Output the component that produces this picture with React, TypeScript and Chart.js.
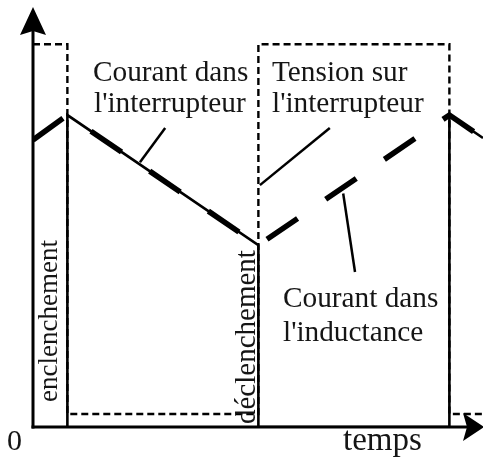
import React, { useEffect, useRef } from "react";
import { Chart, registerables } from "chart.js";

Chart.register(...registerables);

// Time instants (arbitrary units): switch turn-on, turn-off, next turn-on, right edge
const tOn1 = 0.9;
const tOff = 5.9;
const tOn2 = 10.9;
const tEnd = 11.78;

// Switch current (solid)
const switchCurrentX = [tOn1, tOn1, tOff, tOff, tOn2, tOn2, tEnd];
const switchCurrentY = [0, 8.15, 4.75, 0, 0, 8.15, 7.55];

// Inductor current (thick dashes)
const inductorCurrentX = [0, tOn1, tOff, tOn2, tEnd];
const inductorCurrentY = [7.5, 8.15, 4.75, 8.15, 7.55];

// Switch voltage (dotted)
const switchVoltageX = [0, tOn1, tOn1, tOff, tOff, tOn2, tOn2, tEnd];
const switchVoltageY = [10, 10, 0.34, 0.34, 10, 10, 0.34, 0.34];

// Leader lines from labels to curves
const leaderSwitchCurrentX = [2.8, 3.46];
const leaderSwitchCurrentY = [6.92, 7.81];
const leaderVoltageX = [5.94, 7.77];
const leaderVoltageY = [6.32, 7.81];
const leaderInductorX = [8.12, 8.43];
const leaderInductorY = [6.1, 4.05];

const toPoints = (xs: number[], ys: number[]) => xs.map((x, i) => ({ x, y: ys[i] }));

const SERIF = "'Liberation Serif', 'Times New Roman', serif";

// Text annotations: pixel anchors for the labels
const labels = [
  { text: "Courant dans", x: 93, y: 81, size: 29.3 },
  { text: "l'interrupteur", x: 94, y: 112, size: 29.3 },
  { text: "Tension sur", x: 272, y: 81, size: 29.3 },
  { text: "l'interrupteur", x: 272, y: 112, size: 29.3 },
  { text: "Courant dans", x: 283, y: 307, size: 29.3 },
  { text: "l'inductance", x: 283, y: 341, size: 29.3 },
  { text: "0", x: 7, y: 450, size: 30 },
  { text: "temps", x: 343, y: 450, size: 33 },
];
const verticalLabels = [
  { text: "enclenchement", x: 57, y: 402, size: 27 },
  { text: "déclenchement", x: 255, y: 424, size: 29 },
];

const axesPlugin = {
  id: "axesWithArrows",
  afterDatasetsDraw(chart: any) {
    const { ctx, scales } = chart;
    const x0 = scales.x.getPixelForValue(0);
    const y0 = scales.y.getPixelForValue(0);
    const w = chart.width;
    ctx.save();
    ctx.strokeStyle = "#000";
    ctx.fillStyle = "#000";
    ctx.lineWidth = 3;
    ctx.lineCap = "butt";
    // vertical axis
    ctx.beginPath();
    ctx.moveTo(x0, y0 + 1.5);
    ctx.lineTo(x0, 30);
    ctx.stroke();
    // horizontal axis
    ctx.beginPath();
    ctx.moveTo(x0 - 1.5, y0);
    ctx.lineTo(w - 10, y0);
    ctx.stroke();
    // arrowhead up
    ctx.beginPath();
    ctx.moveTo(x0, 7);
    ctx.lineTo(x0 + 13, 35);
    ctx.lineTo(x0, 31);
    ctx.lineTo(x0 - 13, 35);
    ctx.closePath();
    ctx.fill();
    // arrowhead right
    ctx.beginPath();
    ctx.moveTo(w + 1, y0);
    ctx.lineTo(w - 20, y0 - 14);
    ctx.lineTo(w - 16, y0);
    ctx.lineTo(w - 20, y0 + 14);
    ctx.closePath();
    ctx.fill();

    // labels
    ctx.fillStyle = "#151515";
    ctx.textBaseline = "alphabetic";
    ctx.textAlign = "left";
    labels.forEach((l) => {
      ctx.font = `${l.size}px ${SERIF}`;
      ctx.fillText(l.text, l.x, l.y);
    });
    verticalLabels.forEach((l) => {
      ctx.save();
      ctx.font = `${l.size}px ${SERIF}`;
      ctx.translate(l.x, l.y);
      ctx.rotate(-Math.PI / 2);
      ctx.fillText(l.text, 0, 0);
      ctx.restore();
    });
    ctx.restore();
  },
};

export default function App() {
  const canvasRef = useRef<HTMLCanvasElement | null>(null);

  useEffect(() => {
    if (!canvasRef.current) return;
    const leader = (xs: number[], ys: number[]) => ({
      data: toPoints(xs, ys),
      borderColor: "#000",
      borderWidth: 2.5,
      pointRadius: 0,
      order: 0,
    });
    const chart = new Chart(canvasRef.current, {
      type: "line",
      data: {
        datasets: [
          {
            label: "Courant dans l'interrupteur",
            data: toPoints(switchCurrentX, switchCurrentY),
            borderColor: "#000",
            borderWidth: 2.6,
            pointRadius: 0,
            order: 1,
          },
          {
            label: "Courant dans l'inductance",
            data: toPoints(inductorCurrentX, inductorCurrentY),
            borderColor: "#000",
            borderWidth: 5.5,
            borderDash: [37, 34],
            borderCapStyle: "butt",
            pointRadius: 0,
            order: 2,
          },
          {
            label: "Tension sur l'interrupteur",
            data: toPoints(switchVoltageX, switchVoltageY),
            borderColor: "#000",
            borderWidth: 2.4,
            borderDash: [7, 4],
            pointRadius: 0,
            order: 3,
          },
          leader(leaderSwitchCurrentX, leaderSwitchCurrentY),
          leader(leaderVoltageX, leaderVoltageY),
          leader(leaderInductorX, leaderInductorY),
        ],
      },
      options: {
        responsive: false,
        animation: false,
        devicePixelRatio: 1,
        layout: { padding: { left: 33, right: 0, top: 6, bottom: 32 } },
        plugins: { legend: { display: false }, tooltip: { enabled: false } },
        elements: { line: { tension: 0 } },
        scales: {
          x: { type: "linear", min: 0, max: tEnd, display: false },
          y: { type: "linear", min: 0, max: 11, display: false },
        },
      },
      plugins: [axesPlugin],
    } as any);
    return () => chart.destroy();
  }, []);

  return (
    <div style={{ position: "fixed", left: 0, top: 0, width: 483, height: 459, background: "#fff" }}>
      <canvas ref={canvasRef} width={483} height={459} />
    </div>
  );
}
